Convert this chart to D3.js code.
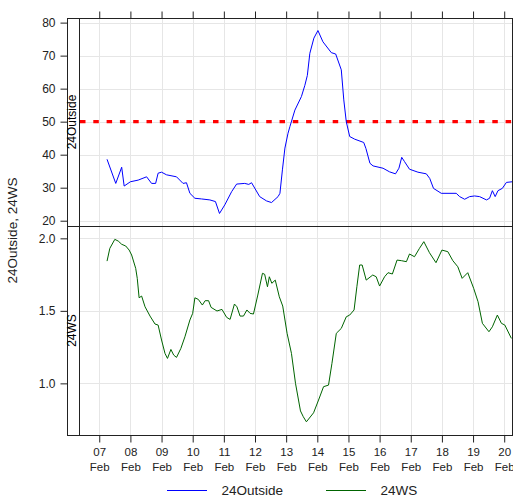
<!DOCTYPE html>
<html>
<head>
<meta charset="utf-8">
<script src="https://cdn.jsdelivr.net/npm/d3@7"></script>
<style>
  body { margin: 0; background: #fff; }
  svg { display: block; font-family: "Liberation Sans", Arial, sans-serif; }
</style>
</head>
<body>
<div id="chart"></div>
<script>
// day of month (Feb) and value
const outsideDays = [7.25, 7.53, 7.72, 7.80, 8.00, 8.25, 8.52, 8.68, 8.81, 8.89, 9.00, 9.16, 9.48, 9.69, 9.80, 9.91,
  10.07, 10.28, 10.55, 10.73, 10.86, 11.03, 11.25, 11.41, 11.67, 11.80, 11.89, 12.15, 12.37, 12.53, 12.74, 12.80,
  12.88, 12.96, 13.06, 13.12, 13.28, 13.49, 13.60, 13.68, 13.76, 13.89, 14.02, 14.18, 14.45, 14.59, 14.77, 14.85,
  14.93, 15.04, 15.20, 15.49, 15.56, 15.69, 15.79, 16.11, 16.32, 16.51, 16.62, 16.71, 16.80, 16.96, 17.23, 17.50,
  17.61, 17.73, 17.98, 18.46, 18.57, 18.73, 18.89, 19.05, 19.21, 19.43, 19.53, 19.62, 19.71, 19.80, 19.94, 20.07, 20.26]
const outsideValues = [38.6, 31.3, 36.2, 30.5, 31.8, 32.3, 33.3, 31.3, 31.3, 34.4, 34.7, 33.9, 33.3, 31.3, 31.5, 28.3,
  26.8, 26.6, 26.3, 25.8, 22.2, 24.8, 28.8, 31.1, 31.3, 31.0, 31.5, 27.3, 26.0, 25.5, 27.3, 28.3,
  35.4, 42.0, 46.5, 48.5, 53.5, 57.6, 61.0, 64.0, 70.7, 75.3, 77.6, 74.2, 70.9, 70.5, 65.7, 56.6,
  50.0, 45.5, 44.7, 43.7, 41.9, 37.4, 36.6, 35.9, 34.8, 34.2, 35.9, 39.2, 37.9, 35.6, 34.7, 34.2,
  32.8, 29.8, 28.3, 28.3, 27.3, 26.5, 27.3, 27.5, 27.3, 26.3, 26.8, 29.1, 27.3, 29.1, 29.8, 31.6, 31.8]

const wsDays = [7.25, 7.34, 7.50, 7.61, 7.72, 7.85, 7.96, 8.04, 8.17, 8.22, 8.28, 8.36, 8.47, 8.63, 8.79, 8.89,
  9.00, 9.11, 9.19, 9.30, 9.39, 9.48, 9.62, 9.75, 9.91, 10.00, 10.07, 10.18, 10.31, 10.40, 10.51, 10.59,
  10.78, 10.94, 11.09, 11.20, 11.34, 11.42, 11.52, 11.63, 11.74, 11.84, 11.95, 12.09, 12.24, 12.31, 12.40, 12.46,
  12.54, 12.65, 12.78, 12.89, 13.03, 13.17, 13.30, 13.46, 13.55, 13.65, 13.88, 14.04, 14.20, 14.36, 14.47, 14.61,
  14.77, 14.93, 15.04, 15.18, 15.27, 15.36, 15.44, 15.57, 15.78, 15.89, 16.00, 16.16, 16.27, 16.41, 16.56, 16.70,
  16.86, 16.96, 17.12, 17.28, 17.42, 17.60, 17.81, 18.00, 18.19, 18.35, 18.51, 18.65, 18.83, 19.02, 19.16, 19.30,
  19.51, 19.62, 19.78, 19.91, 20.02, 20.23]
const wsValues = [1.843, 1.931, 1.993, 1.981, 1.959, 1.947, 1.919, 1.885, 1.793, 1.724, 1.590, 1.602, 1.528, 1.464, 1.409, 1.402,
  1.299, 1.207, 1.172, 1.234, 1.195, 1.179, 1.241, 1.321, 1.437, 1.483, 1.590, 1.579, 1.540, 1.570, 1.570, 1.524,
  1.499, 1.510, 1.455, 1.441, 1.547, 1.528, 1.464, 1.464, 1.506, 1.483, 1.478, 1.609, 1.759, 1.752, 1.666, 1.735,
  1.690, 1.712, 1.597, 1.533, 1.345, 1.207, 1.000, 0.810, 0.770, 0.735, 0.797, 0.885, 0.977, 0.988, 1.138, 1.345,
  1.379, 1.459, 1.471, 1.506, 1.666, 1.816, 1.816, 1.712, 1.747, 1.735, 1.671, 1.735, 1.763, 1.754, 1.850, 1.846,
  1.839, 1.892, 1.873, 1.931, 1.977, 1.901, 1.832, 1.919, 1.908, 1.846, 1.804, 1.724, 1.763, 1.655, 1.563, 1.414,
  1.356, 1.390, 1.471, 1.414, 1.402, 1.310]

const dayTicks = [7, 8, 9, 10, 11, 12, 13, 14, 15, 16, 17, 18, 19, 20]
const outsideTicks = [20, 30, 40, 50, 60, 70, 80]
const wsTicks = [1.0, 1.5, 2.0]
const refLine = 50
const seriesNames = ['24Outside', '24WS']
const seriesColors = ['#0000ff', '#006400']

const width = 513
const height = 496
const box = { left: 67, strip: 79, right: 512, top: 18, mid: 226, bottom: 435 }

const toDate = d => new Date(Date.UTC(2015, 1, 1) + (d - 1) * 864e5)

const svg = d3.select('#chart').append('svg')
  .attr('width', width)
  .attr('height', height)

const x = d3.scaleUtc()
  .domain([toDate(6.35), toDate(20.25)])
  .range([box.strip, box.right])
const yTop = d3.scaleLinear()
  .domain([18.4, 81.4])
  .range([box.mid, box.top])
const yBot = d3.scaleLinear()
  .domain([0.644, 2.085])
  .range([box.bottom, box.mid])

const tickDates = dayTicks.map(toDate)

// grid
const grid = svg.append('g').attr('stroke', '#e6e6e6').attr('stroke-width', 1)
tickDates.forEach(t => {
  grid.append('line')
    .attr('x1', Math.round(x(t)) + 0.5).attr('x2', Math.round(x(t)) + 0.5)
    .attr('y1', box.top).attr('y2', box.bottom)
})
outsideTicks.forEach(v => {
  grid.append('line')
    .attr('x1', box.strip).attr('x2', box.right)
    .attr('y1', Math.round(yTop(v)) + 0.5).attr('y2', Math.round(yTop(v)) + 0.5)
})
wsTicks.forEach(v => {
  grid.append('line')
    .attr('x1', box.strip).attr('x2', box.right)
    .attr('y1', Math.round(yBot(v)) + 0.5).attr('y2', Math.round(yBot(v)) + 0.5)
})

// reference line
svg.append('line')
  .attr('x1', box.strip + 1).attr('x2', box.right)
  .attr('y1', yTop(refLine)).attr('y2', yTop(refLine))
  .attr('stroke', '#ff0000')
  .attr('stroke-width', 3.3)
  .attr('stroke-dasharray', '5.5 7.8')

// series
const clip = svg.append('clipPath').attr('id', 'clip')
  .append('rect')
  .attr('x', box.strip).attr('y', box.top)
  .attr('width', box.right - box.strip).attr('height', box.bottom - box.top)

const lineTop = d3.line()
  .x((d, i) => x(toDate(outsideDays[i])))
  .y(d => yTop(d))
const lineBot = d3.line()
  .x((d, i) => x(toDate(wsDays[i])))
  .y(d => yBot(d))

svg.append('path')
  .attr('clip-path', 'url(#clip)')
  .attr('d', lineTop(outsideValues))
  .attr('fill', 'none')
  .attr('stroke', seriesColors[0])
  .attr('stroke-width', 1)
svg.append('path')
  .attr('clip-path', 'url(#clip)')
  .attr('d', lineBot(wsValues))
  .attr('fill', 'none')
  .attr('stroke', seriesColors[1])
  .attr('stroke-width', 1)

// frame
const frame = svg.append('g').attr('stroke', '#222').attr('fill', 'none')
frame.append('rect')
  .attr('x', box.left + 0.5).attr('y', box.top + 0.5)
  .attr('width', box.right - box.left).attr('height', box.bottom - box.top)
frame.append('line')
  .attr('x1', box.strip + 0.5).attr('x2', box.strip + 0.5)
  .attr('y1', box.top).attr('y2', box.bottom)
frame.append('line')
  .attr('x1', box.left).attr('x2', box.right)
  .attr('y1', box.mid + 0.5).attr('y2', box.mid + 0.5)

// strip labels
svg.append('text')
  .attr('transform', `translate(${box.strip - 3.5}, ${(box.top + box.mid) / 2}) rotate(-90)`)
  .attr('text-anchor', 'middle')
  .attr('font-size', 12)
  .text(seriesNames[0])
svg.append('text')
  .attr('transform', `translate(${box.strip - 3.5}, ${(box.mid + box.bottom) / 2}) rotate(-90)`)
  .attr('text-anchor', 'middle')
  .attr('font-size', 12)
  .text(seriesNames[1])

// axes
const styleAxis = g => {
  g.select('.domain').remove()
  g.selectAll('.tick line').attr('stroke', '#222')
  g.selectAll('.tick text').attr('fill', '#222').attr('font-size', 12)
}

svg.append('g')
  .attr('transform', `translate(${box.left + 0.5}, 0)`)
  .call(d3.axisLeft(yTop).tickValues(outsideTicks).tickSize(7).tickPadding(5))
  .call(styleAxis)
svg.append('g')
  .attr('transform', `translate(${box.left + 0.5}, 0)`)
  .call(d3.axisLeft(yBot).tickValues(wsTicks).tickSize(7).tickPadding(5).tickFormat(d3.format('.1f')))
  .call(styleAxis)

svg.append('g')
  .attr('transform', `translate(0, ${box.top + 0.5})`)
  .call(d3.axisTop(x).tickValues(tickDates).tickSize(7).tickFormat(''))
  .call(styleAxis)

const xAxis = svg.append('g')
  .attr('transform', `translate(0, ${box.bottom + 0.5})`)
  .call(d3.axisBottom(x).tickValues(tickDates).tickSize(7).tickFormat(''))
  .call(styleAxis)
xAxis.selectAll('.tick').append('text')
  .attr('fill', '#222')
  .attr('font-size', 11.5)
  .attr('text-anchor', 'middle')
  .selectAll('tspan')
  .data(d => [d3.utcFormat('%d')(d), d3.utcFormat('%b')(d)])
  .join('tspan')
    .attr('x', 0)
    .attr('y', (d, i) => 20 + i * 15)
    .text(d => d)

// y title
svg.append('text')
  .attr('transform', `translate(17, ${(box.top + box.bottom) / 2 + 4}) rotate(-90)`)
  .attr('text-anchor', 'middle')
  .attr('font-size', 13.5)
  .attr('fill', '#222')
  .text(seriesNames.join(', '))

// legend
const legendX = [167, 326]
const legend = svg.append('g')
seriesNames.forEach((name, i) => {
  legend.append('line')
    .attr('x1', legendX[i]).attr('x2', legendX[i] + 40)
    .attr('y1', 490.5).attr('y2', 490.5)
    .attr('stroke', seriesColors[i])
  legend.append('text')
    .attr('x', legendX[i] + 54.5)
    .attr('y', 495)
    .attr('font-size', 13.5)
    .attr('fill', '#222')
    .text(name)
})
</script>
</body>
</html>
